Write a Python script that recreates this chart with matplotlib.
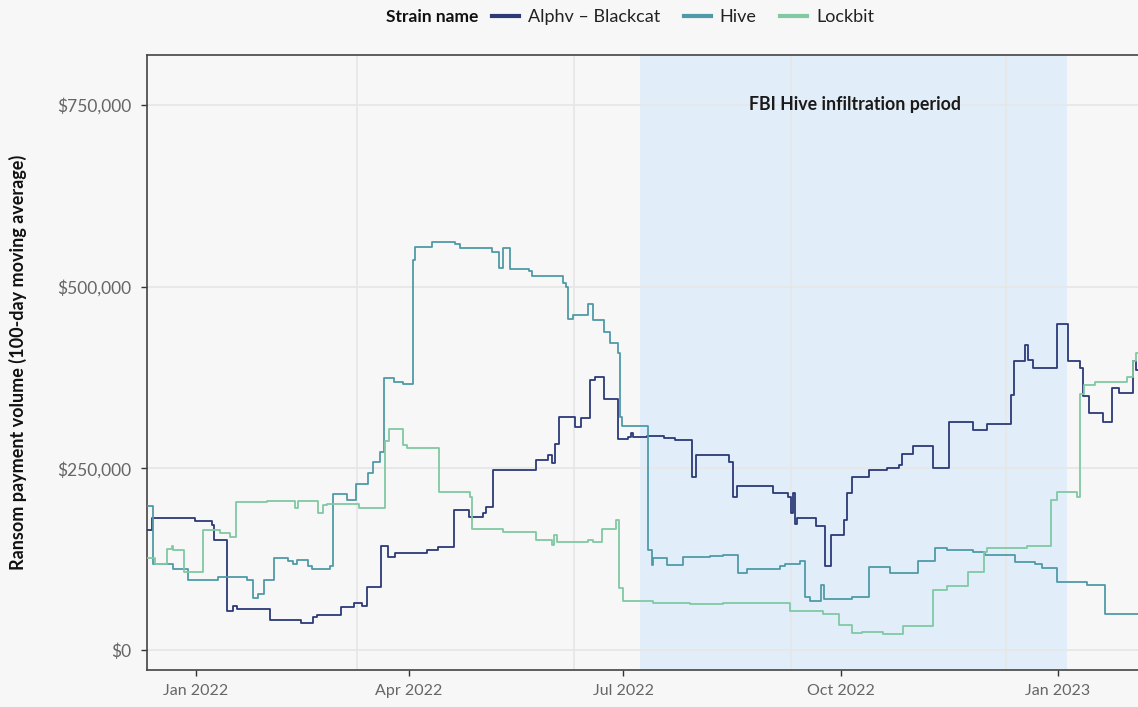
import matplotlib.pyplot as plt
import matplotlib.dates as mdates
import matplotlib.ticker as mticker
from matplotlib.lines import Line2D
import pandas as pd

plt.rcParams['font.family'] = ['Lato', 'DejaVu Sans']

# days since 2022-01-01 and 100-day moving average in thousand USD (step changes)
alphv_day = [-21, -18.8, -0.4, 6.6, 7.6, 13.3, 15.8, 17.2, 31.3, 44.3, 49.4, 51.1, 61.3, 67.1, 70.2,
             72.3, 78.2, 81.5, 84.3, 98, 102.6, 109.3, 115.8, 121.7, 123, 125.9, 144, 149, 150.6,
             152.1, 153.9, 160.5, 162.9, 166.9, 169, 172.8, 178.9, 183.1, 184.1, 185.2, 190.9, 198,
             202.9, 210, 211.8, 225.5, 227.5, 229.3, 244.5, 250.9, 251.9, 252.7, 253.7, 254.7, 262.6,
             266.4, 268.8, 274.2, 275.6, 277.7, 284.8, 292.5, 297.5, 298.9, 303.8, 312, 318.7, 328.9,
             334.9, 345, 346.5, 351, 352.5, 354.6, 364.8, 369.1, 374.4, 375.6, 378, 384.3, 387.9,
             390.7, 397, 398.2, 403]
alphv_k = [165, 181, 177, 172, 151, 53, 60, 56, 41, 37, 46, 48, 59, 65, 61,
           87, 143, 128, 134, 138, 142, 192, 183, 188, 197, 248, 262, 268, 257,
           284, 320, 307, 319, 372, 375, 346, 290, 293, 299, 293, 295, 292,
           289, 238, 268, 259, 211, 225, 216, 211, 188, 216, 174, 181, 171,
           115, 158, 179, 216, 238, 248, 250, 255, 270, 281, 250, 314, 303,
           311, 351, 397, 420, 399, 388, 449, 398, 388, 349, 326, 314, 361,
           354, 397, 385, 385]

hive_day = [-21, -18.3, -9.6, -3.2, 9.5, 21.5, 24, 26.4, 28.8, 32.8, 39.1, 41.2, 42.6, 47.6, 49,
            56.8, 57.9, 63.8, 67.8, 73, 75.1, 78, 79.8, 84, 87.8, 91.8, 92.8, 99.8, 109.7, 111.8,
            125.2, 128.5, 129.9, 133, 140.8, 142.2, 155.6, 156.7, 157.7, 159.7, 166.2, 168.3, 172.8,
            175.4, 178.9, 179.6, 180.3, 191.6, 193, 193.7, 199.6, 206.1, 217.7, 223.3, 229.7, 233.5,
            247.4, 249.5, 255.8, 257.9, 260.1, 264.5, 266, 277.7, 284.8, 294, 305.9, 313, 317.9,
            329.2, 334.2, 346.9, 355.4, 358.2, 364.8, 377.2, 385, 403]
hive_k = [198, 118, 111, 96, 101, 96, 71, 77, 96, 126, 123, 119, 124, 115, 112,
          115, 215, 207, 229, 244, 259, 273, 374, 369, 366, 537, 555, 562, 559, 553,
          548, 525, 553, 524, 521, 515, 505, 500, 456, 461, 476, 454, 438,
          423, 408, 321, 308, 138, 117, 126, 117, 128, 129, 131, 106, 111,
          116, 118, 122, 73, 68, 89, 70, 73, 114, 106, 123, 140, 138,
          135, 131, 121, 118, 113, 93, 90, 50, 50]

lockbit_day = [-21, -17.4, -12.1, -10.3, -9.6, -5.1, 2.8, 10.2, 14.4, 16.9, 29.9, 41.9, 43.3, 51.5,
               53.6, 55.3, 68.8, 79.3, 80.1, 81.9, 87.8, 89.2, 102.9, 116, 117, 130.2, 144, 150.6,
               151.6, 153, 166.2, 168.3, 171.8, 178, 179.3, 181, 193.4, 209.2, 223.3, 251.5, 265.7,
               272.1, 277.7, 282, 291.1, 299.6, 312, 317.9, 327.1, 333.7, 335, 351.8, 362, 364.5,
               373, 374.4, 376.1, 380.8, 394.2, 397, 398.2, 403]
lockbit_k = [126, 119, 139, 143, 138, 108, 165, 161, 156, 203, 205, 195, 205, 189,
             199, 201, 196, 195, 287, 304, 282, 278, 217, 211, 167, 163, 151, 145,
             158, 148, 151, 148, 167, 179, 85, 68, 65, 63, 65, 53, 50,
             34, 23, 25, 22, 33, 83, 88, 108, 135, 140, 143, 207, 217,
             211, 352, 365, 369, 376, 397, 408, 408]

base = pd.Timestamp('2022-01-01')


def to_dates(days):
    return base + pd.to_timedelta(days, unit='D')


series = [
    ('Alphv – Blackcat', alphv_day, alphv_k, '#2c3a78'),
    ('Hive', hive_day, hive_k, '#4f9aa7'),
    ('Lockbit', lockbit_day, lockbit_k, '#80c9a3'),
]

bg = '#f7f7f7'
fig = plt.figure(figsize=(11.38, 7.07), dpi=100, facecolor=bg)
ax = fig.add_axes([146.7 / 1138, 37 / 707, 1000 / 1138, 615 / 707], facecolor=bg)

# FBI infiltration window
ax.axvspan(pd.Timestamp('2022-07-08'), pd.Timestamp('2023-01-05'), color='#e1eefa', zorder=0.3, lw=0)
ax.text(pd.Timestamp('2022-10-07'), 751000, 'FBI Hive infiltration period', ha='center', va='center',
        fontsize=12.8, fontweight='bold', color='#1a1a1a')

for name, d, k, c in series:
    ax.step(to_dates(d), [v * 1000 for v in k], where='post', color=c, lw=1.3, label=name, zorder=3)

ax.set_xlim(to_dates([-20.9])[0], to_dates([402.6])[0])
ax.set_ylim(-27500, 818700)

ax.xaxis.set_major_locator(mdates.MonthLocator(bymonth=[1, 4, 7, 10]))
ax.xaxis.set_major_formatter(mdates.DateFormatter('%b %Y'))
ax.xaxis.set_minor_locator(mdates.MonthLocator(bymonth=[3, 6, 9, 12], bymonthday=10))
ax.yaxis.set_major_locator(mticker.MultipleLocator(250000))
ax.yaxis.set_major_formatter(mticker.FuncFormatter(lambda v, p: f'${v:,.0f}'))

ax.set_axisbelow(True)
ax.grid(axis='y', which='major', color='#e6e6e6', lw=1.2)
ax.grid(axis='x', which='minor', color='#e6e6e6', lw=1.2)
ax.tick_params(axis='x', which='minor', length=0)
ax.tick_params(axis='both', which='major', length=4, width=1, color='#333333',
               labelcolor='#666666', labelsize=12.5)
ax.tick_params(axis='x', labelsize=11.5, pad=6)
ax.tick_params(axis='y', pad=7)
for s in ax.spines.values():
    s.set_color('#444444')
    s.set_linewidth(1.2)

ax.set_ylabel('Ransom payment volume (100-day moving average)', fontsize=13, fontweight='bold',
              color='#111111', labelpad=22)

fig.text(432 / 1138, 1 - 17 / 707, 'Strain name', ha='center', va='center', fontsize=12.5,
         fontweight='bold', color='#111111')
handles = [Line2D([], [], color=c, lw=3) for _, _, _, c in series]
fig.legend(handles, [s[0] for s in series], loc='center', bbox_to_anchor=(683 / 1138, 1 - 17 / 707),
           ncol=3, frameon=False, fontsize=13, handlelength=1.5, handletextpad=0.5, columnspacing=1.3,
           labelcolor='#222222')

fig.savefig('out.png', dpi=100, facecolor=bg)
